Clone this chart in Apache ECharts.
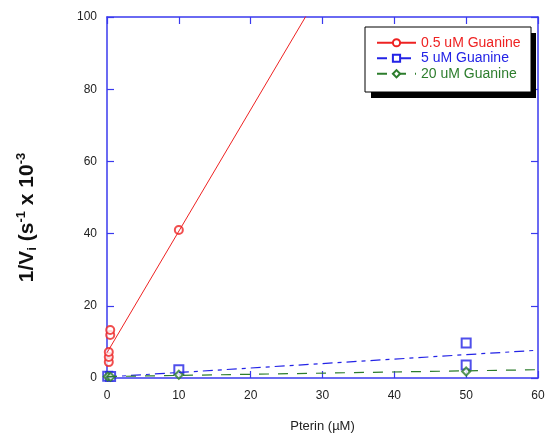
<!DOCTYPE html>
<html><head><meta charset="utf-8">
<script src="https://cdn.jsdelivr.net/npm/echarts@6/dist/echarts.min.js"></script>
<style>html,body{margin:0;padding:0;background:#fff}#c{width:552px;height:441px}</style>
</head><body><div id="c"></div>
<script>
const seriesNames = ['0.5 uM Guanine', '5 uM Guanine', '20 uM Guanine'];
const xTicks = [0, 10, 20, 30, 40, 50, 60];
const yTicks = [0, 20, 40, 60, 80, 100];
// measured points [Pterin uM, 1/Vi]
const redPts = [[0.25, 4.4], [0.25, 5.8], [0.25, 7.2], [0.45, 11.9], [0.45, 13.3], [10, 41]];
const bluePts = [[0.1, 0.5], [0.5, 0.4], [10, 2.3], [50, 9.7], [50, 3.6]];
const greenPts = [[0.1, 0.4], [0.5, 0.3], [10, 0.9], [50, 1.8]];
// fitted lines (endpoints)
const redFit = [[0, 7.0], [60, 209]];
const blueFit = [[0, 0.3], [60, 7.7]];
const greenFit = [[0, 0.4], [60, 2.3]];

const RED = '#ee2222', BLUE = '#2323e6', GREEN = '#2d7d2d', AX = '#3a3aee';
const chart = echarts.init(document.getElementById('c'));
const axCommon = {
  type: 'value', splitLine: {show: false},
  axisLine: {show: true, onZero: false, lineStyle: {color: AX, width: 1.5}},
  axisTick: {show: true, inside: true, length: 7, lineStyle: {color: AX, width: 1.2}},
};
chart.setOption({
  animation: false,
  textStyle: {fontFamily: 'Liberation Sans, Arial, sans-serif'},
  grid: {left: 107, right: 14, top: 17, bottom: 63, containLabel: false},
  graphic: [
    {type: 'rect', z: 1, shape: {x: 371, y: 33, width: 165, height: 65}, style: {fill: '#000'}},
    {type: 'rect', z: 2, shape: {x: 365, y: 27, width: 166, height: 65}, style: {fill: '#fff', stroke: '#000', lineWidth: 1}}
  ],
  xAxis: [
    Object.assign({}, axCommon, {position: 'bottom', min: xTicks[0], max: xTicks[xTicks.length-1], interval: 10,
      name: 'Pterin (\u00b5M)', nameLocation: 'middle', nameGap: 42,
      nameTextStyle: {fontSize: 13, color: '#222'},
      axisLabel: {fontSize: 12, color: '#222', margin: 12}}),
    Object.assign({}, axCommon, {position: 'top', min: 0, max: 60, interval: 10, axisLabel: {show: false}})
  ],
  yAxis: [
    Object.assign({}, axCommon, {position: 'left', min: yTicks[0], max: yTicks[yTicks.length-1], interval: 20,
      name: '{n|1/V}{sub|i}{n| (s}{sup|-1}{n| x 10}{sup|-3}', nameLocation: 'middle', nameGap: 68,
      nameTextStyle: {padding: [0, 40, 0, 0], rich: {
        n: {fontSize: 21, fontWeight: 'bold', color: '#111'},
        sub: {fontSize: 13, fontWeight: 'bold', color: '#111', verticalAlign: 'bottom', padding: [11, 0, 0, 0]},
        sup: {fontSize: 13, fontWeight: 'bold', color: '#111', verticalAlign: 'top', padding: [0, 0, 11, 0]}
      }},
      axisLabel: {fontSize: 12, color: '#222', margin: 10}}),
    Object.assign({}, axCommon, {position: 'right', min: 0, max: 100, interval: 20, axisLabel: {show: false}})
  ],
  legend: {
    left: 376, top: 35, orient: 'vertical', itemWidth: 39, itemHeight: 9, itemGap: 0,
    padding: 0, z: 5,
    textStyle: {fontSize: 14, lineHeight: 15.5},
    data: [
      {name: seriesNames[0], textStyle: {color: RED}},
      {name: seriesNames[1], textStyle: {color: BLUE}},
      {name: seriesNames[2], textStyle: {color: GREEN}}
    ]
  },
  series: [
    {name: seriesNames[0], type: 'line', data: redFit, showSymbol: false, symbol: 'emptyCircle', symbolSize: 8,
      clip: true, color: RED, lineStyle: {width: 1, color: RED}, itemStyle: {color: RED}, silent: true},
    {name: seriesNames[1], type: 'line', data: blueFit, showSymbol: false, symbol: 'emptyRect', symbolSize: 8,
      clip: true, color: BLUE, lineStyle: {width: 1.2, color: BLUE, type: [10, 5, 4, 5]}, itemStyle: {color: BLUE}, silent: true},
    {name: seriesNames[2], type: 'line', data: greenFit, showSymbol: false, symbol: 'emptyDiamond', symbolSize: 8,
      clip: true, color: GREEN, lineStyle: {width: 1.2, color: GREEN, type: [10, 9]}, itemStyle: {color: GREEN}, silent: true},
    {name: seriesNames[0], type: 'scatter', data: redPts, symbol: 'emptyCircle', symbolSize: 8,
      itemStyle: {color: RED, borderWidth: 1.2}, silent: true},
    {name: seriesNames[1], type: 'scatter', data: bluePts, symbol: 'emptyRect', symbolSize: 9,
      itemStyle: {color: BLUE, borderWidth: 1.2}, silent: true},
    {name: seriesNames[2], type: 'scatter', data: greenPts, symbol: 'emptyDiamond', symbolSize: 8,
      itemStyle: {color: GREEN, borderWidth: 1.5}, silent: true}
  ]
});
</script></body></html>
